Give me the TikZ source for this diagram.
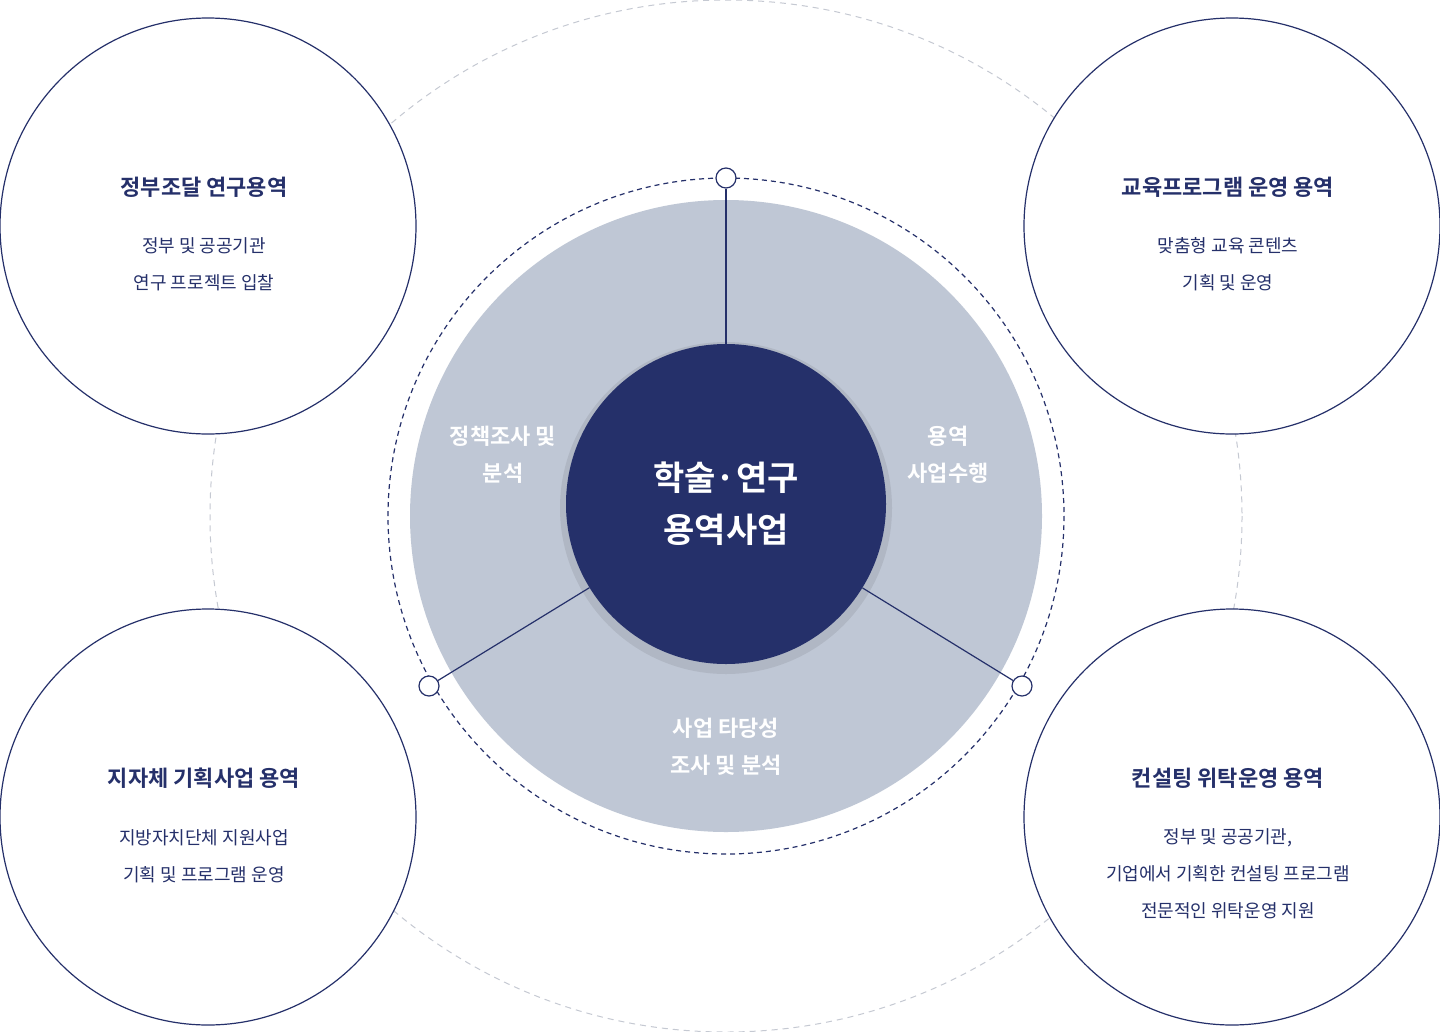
\documentclass[tikz,border=0pt]{standalone}
\usepackage{fontspec}
\setmainfont{Noto Sans CJK KR}
\newfontfamily\boldkr{Noto Sans CJK KR}[UprightFont=* Bold]
\begin{document}
\begin{tikzpicture}[x=1pt,y=-1pt,
  navyline/.style={draw=navy,line width=1.2pt},
  corner/.style={circle,draw=navy,line width=1.2pt,fill=white,minimum size=416pt,inner sep=0pt},
  ctitle/.style={font=\boldkr\fontsize{22}{26}\selectfont,text=navy},
  cbody/.style={font=\fontsize{18}{37}\selectfont,text=navy,align=center},
  seg/.style={font=\boldkr\fontsize{22}{37}\selectfont,text=white,align=center},
  dot/.style={circle,draw=navy,line width=1.2pt,fill=white,minimum size=20pt,inner sep=0pt}]
\definecolor{navy}{HTML}{25306A}
\definecolor{greyd}{HTML}{BFC7D5}
\definecolor{outer}{HTML}{C5C9D2}
\useasboundingbox (0,0) rectangle (1440,1031);
\fill[white] (0,0) rectangle (1440,1031);
\draw[outer,dashed,line width=1pt,dash pattern=on 6pt off 5pt] (726,516) circle[radius=516];
\fill[greyd] (726,516) circle[radius=316];
\draw[navy,line width=1.2pt,dash pattern=on 5pt off 4pt] (726,516) circle[radius=338];
\node[dot] (dt) at (726,178) {};
\node[dot] (dl) at (429,686) {};
\node[dot] (dr) at (1022,686) {};
\fill[black,opacity=0.08] (726,508) circle[radius=166];
\node[circle,fill=navy,minimum size=320pt,inner sep=0pt] (c) at (726,504) {};
\draw[navyline] (c) -- (dt);
\draw[navyline] (c) -- (dl);
\draw[navyline] (c) -- (dr);
\node[font=\boldkr\fontsize{34}{52}\selectfont,text=white,align=center] (ct) at (726,504) {학술·연구\\용역사업};
\node[seg] (s1) at (503,455) {정책조사 및\\분석};
\node[seg] (s2) at (948,455) {용역\\사업수행};
\node[seg] (s3) at (726,747) {사업 타당성\\조사 및 분석};
\node[corner] (tl) at (208,226) {};
\node[corner] (tr) at (1232,226) {};
\node[corner] (bl) at (208,817) {};
\node[corner] (br) at (1232,817) {};
\node[ctitle] (tlt) at (204,187) {정부조달 연구용역};
\node[cbody] (tlb) at (204,264) {정부 및 공공기관\\연구 프로젝트 입찰};
\node[ctitle] (trt) at (1228,187) {교육프로그램 운영 용역};
\node[cbody] (trb) at (1228,264) {맞춤형 교육 콘텐츠\\기획 및 운영};
\node[ctitle] (blt) at (204,778) {지자체 기획사업 용역};
\node[cbody] (blb) at (204,856) {지방자치단체 지원사업\\기획 및 프로그램 운영};
\node[ctitle] (brt) at (1228,778) {컨설팅 위탁운영 용역};
\node[cbody] (brb) at (1228,874) {정부 및 공공기관,\\기업에서 기획한 컨설팅 프로그램\\전문적인 위탁운영 지원};
\end{tikzpicture}
\end{document}
